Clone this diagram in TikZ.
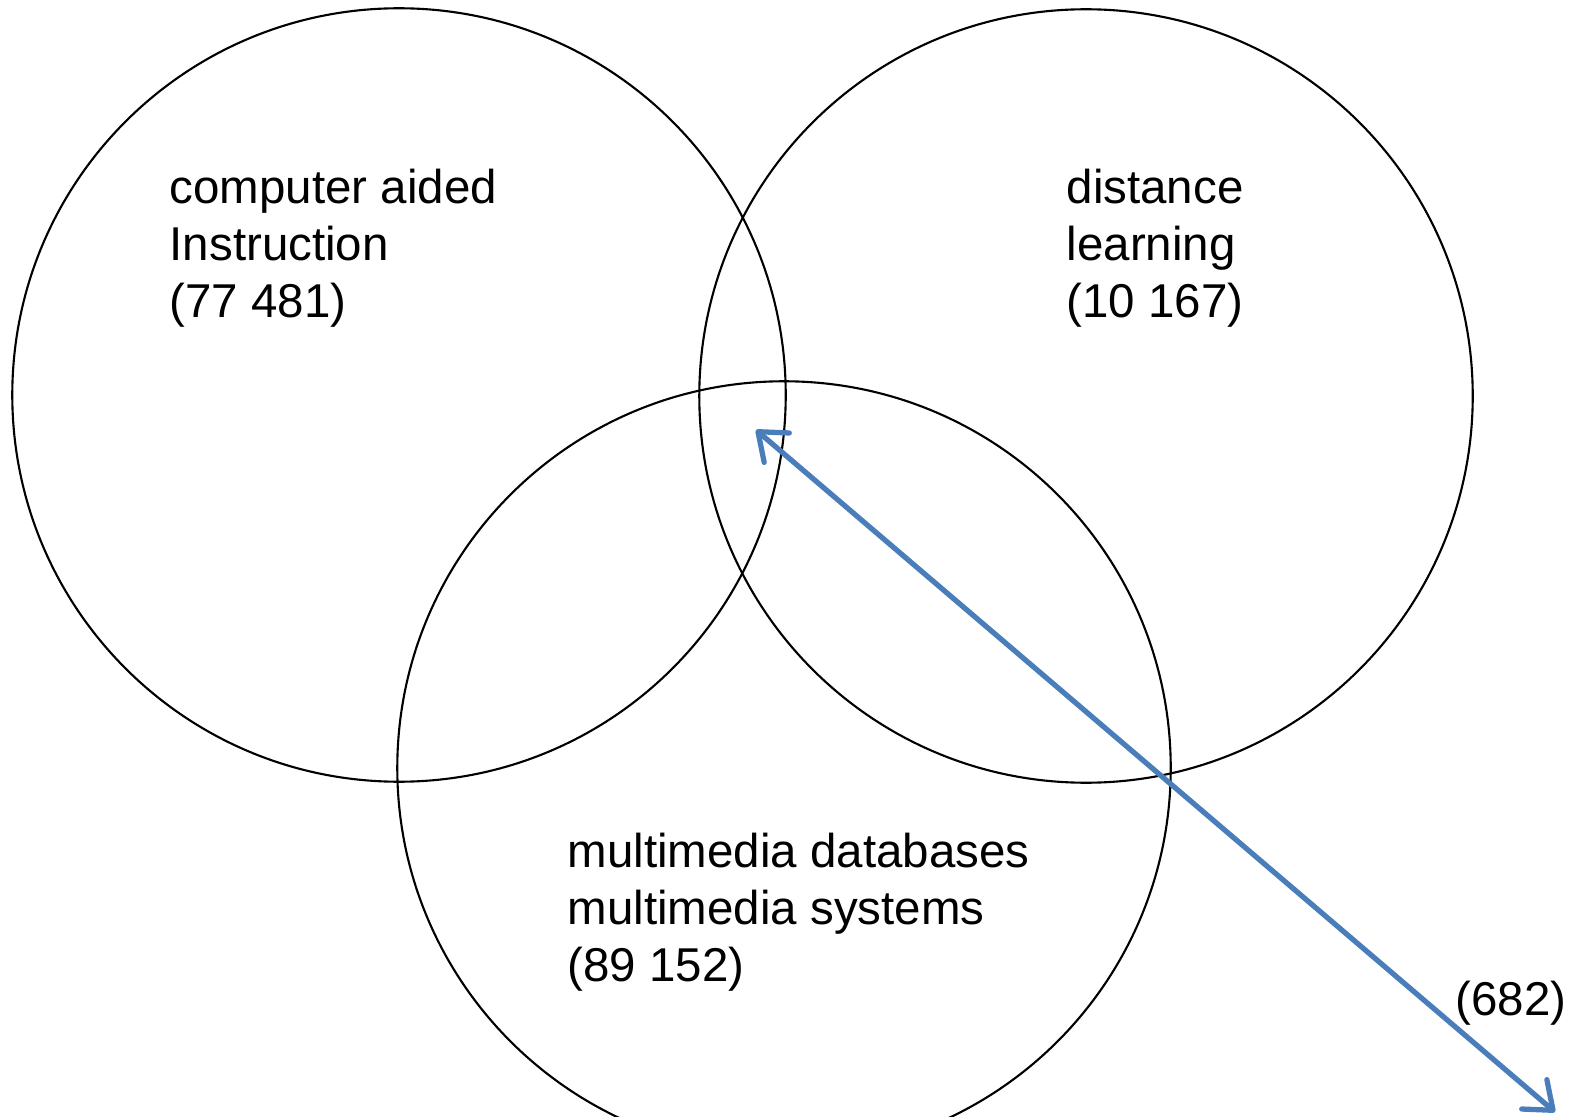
\documentclass[tikz,border=0pt]{standalone}
\usepackage{fontspec}
\setmainfont{Liberation Sans}
\usepackage{tikz}
\usetikzlibrary{arrows.meta, calc, positioning}
\usepackage{xcolor}
\definecolor{arrowblue}{RGB}{74,126,187}

\begin{document}
\begin{tikzpicture}[x=0.01cm, y=-0.01cm]
        \tikzstyle{set}=[circle, draw, line width=0.6pt, inner sep=0pt, minimum size=7.73cm]
        \tikzstyle{label}=[anchor=north west, inner sep=0pt, align=left, font=\fontsize{13.5}{16.2}\selectfont]
        \useasboundingbox (0,0) rectangle (1574,1116);

        % The three sets
        \node (cai)[set] at (399,395) {};
        \node (dl)[set] at (1086,396) {};
        \node (mm)[set] at (784,768) {};

        % Set labels
        \node (caitext)[label] at (169,168) {computer aided\\Instruction\\(77 481)};
        \node (dltext)[label] at (1066,168) {distance\\learning\\(10 167)};
        \node (mmtext)[label] at (567,832) {multimedia databases\\multimedia systems\\(89 152)};

        % Common part of all three
        \coordinate (common) at (756,430);
        \coordinate (outside) at (1555,1112);
        \node (commontext)[label] at (1455,980) {(682)};

        % --- Arrow between them ---
        \draw[{Straight Barb[length=7pt,width=11pt,round]}-{Straight Barb[length=7pt,width=11pt,round]}, arrowblue, line width=1.5pt]
        (common) -- (outside);
    \end{tikzpicture}
\end{document}
